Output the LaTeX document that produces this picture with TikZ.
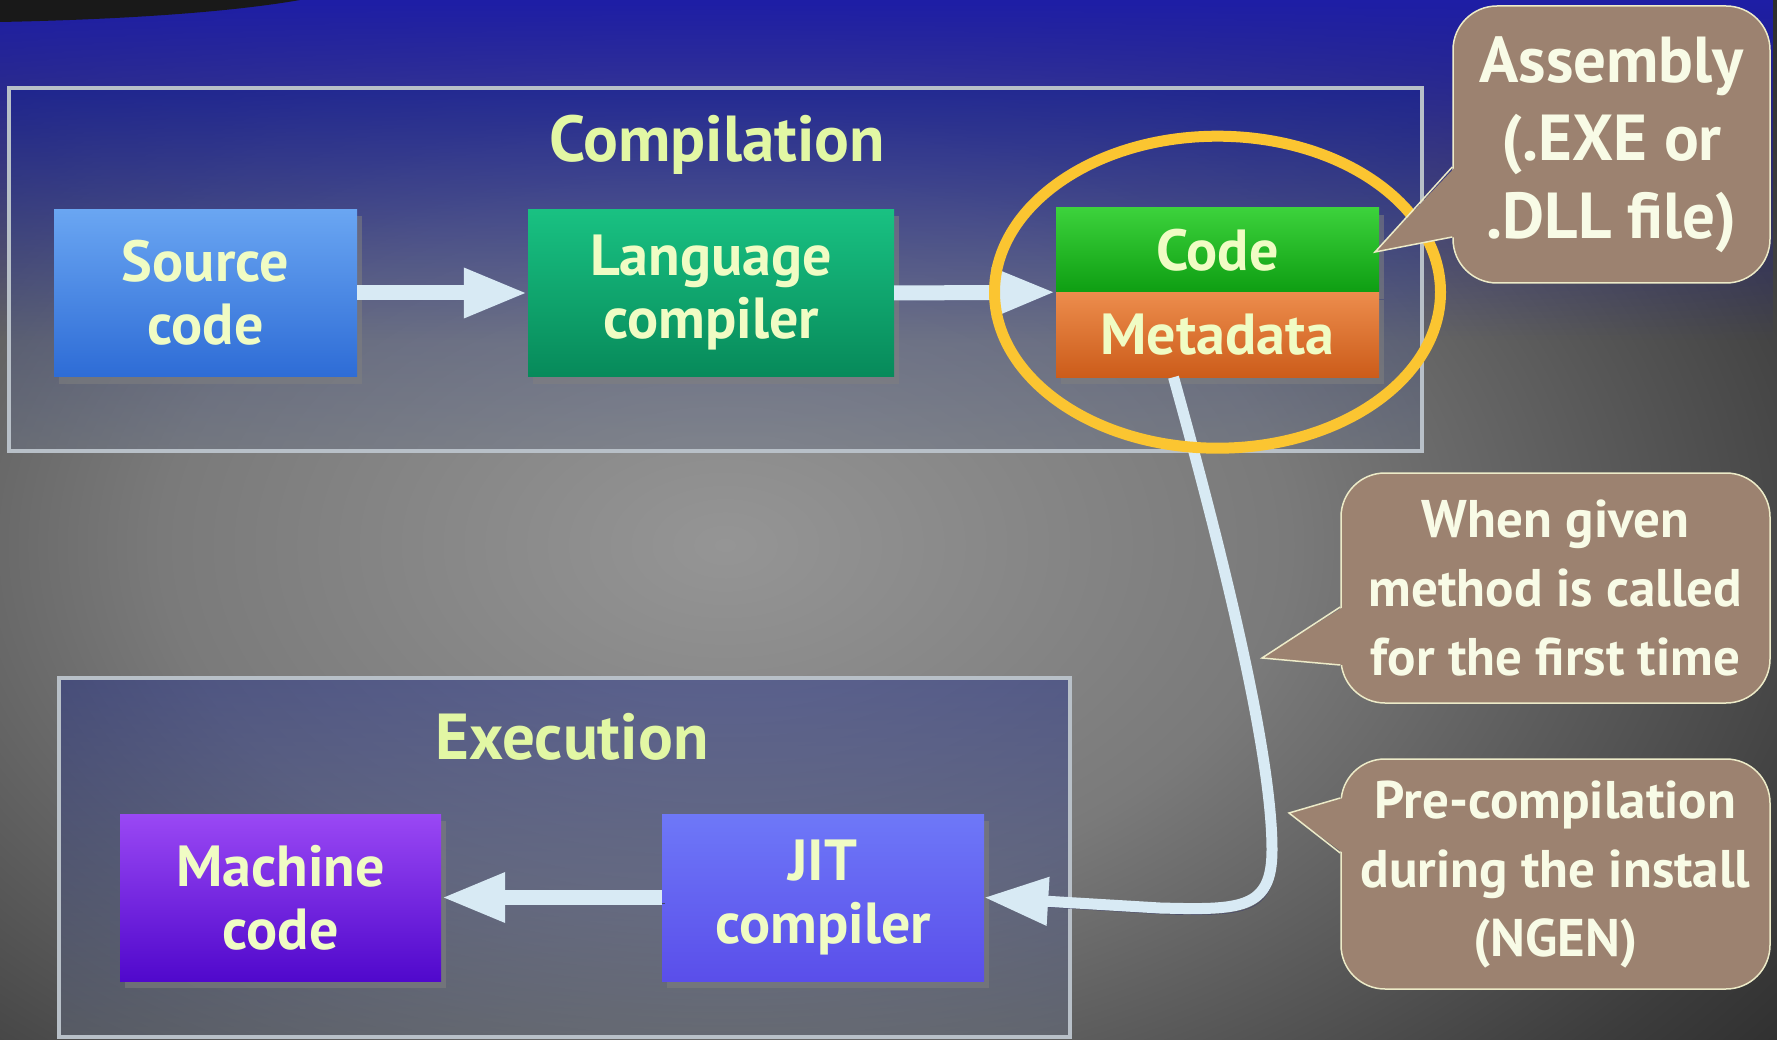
\documentclass[tikz,border=0pt]{standalone}
\usepackage{fontspec}
\setmainfont{PT Sans}
\usetikzlibrary{positioning,shadows,fadings,arrows.meta}
\definecolor{BgLight}{HTML}{959595}
\definecolor{BgMid}{HTML}{7A7A7A}
\definecolor{BgShade}{HTML}{3C3C3C}
\definecolor{BgDark}{HTML}{151515}
\definecolor{TopBlue}{HTML}{1E1EA6}
\definecolor{FrameLine}{HTML}{B8C0C8}
\definecolor{FrameTop}{HTML}{10208E}
\definecolor{FrameBottom}{HTML}{687288}
\definecolor{TitleText}{HTML}{E2F7A4}
\definecolor{BoxText}{HTML}{F0FCC4}
\definecolor{SrcTop}{HTML}{6AA6F2}
\definecolor{SrcBottom}{HTML}{2E6CD6}
\definecolor{LangTop}{HTML}{19C182}
\definecolor{LangBottom}{HTML}{078A5A}
\definecolor{CodeTop}{HTML}{3CD23C}
\definecolor{CodeBottom}{HTML}{0E9E12}
\definecolor{MetaTop}{HTML}{EC8C4C}
\definecolor{MetaBottom}{HTML}{CC5C1A}
\definecolor{MachTop}{HTML}{9A48F4}
\definecolor{MachBottom}{HTML}{5008CC}
\definecolor{JitTop}{HTML}{6E78F8}
\definecolor{JitBottom}{HTML}{5A4EEA}
\definecolor{ArrowFill}{HTML}{D8EAF4}
\definecolor{ArrowShadow}{HTML}{44466E}
\definecolor{NoteFill}{HTML}{9C8270}
\definecolor{NoteLine}{HTML}{EDEBC8}
\definecolor{NoteText}{HTML}{F8FBE6}
\definecolor{Hilite}{HTML}{FBC531}
\pgfdeclareradialshading{backglow}{\pgfpoint{0bp}{0bp}}{%
  color(0bp)=(BgLight); color(12bp)=(BgMid); color(25bp)=(BgShade);
  color(35bp)=(BgDark); color(50bp)=(BgDark)}
\tikzset{
  frame/.style={draw=FrameLine, line width=4pt, top color=FrameTop,
    bottom color=FrameBottom, fill opacity=0.4},
  title/.style={text=TitleText, font=\fontsize{65}{70}\selectfont\bfseries},
  block/.style={minimum width=322pt, minimum height=167pt, inner sep=0pt,
    align=center, text=BoxText, font=\fontsize{58}{63}\selectfont\bfseries,
    drop shadow={shadow xshift=5pt, shadow yshift=-7pt, opacity=0.55}},
  strip/.style={block, minimum height=84pt},
  flow/.style={draw=ArrowFill, line width=15pt, -{Triangle[length=64pt, width=46pt]},
    preaction={draw=ArrowShadow, transform canvas={shift={(3pt,-6pt)}}}},
  hilite/.style={draw=Hilite, line width=11pt},
  note/.style={rounded corners=44pt, fill=NoteFill, draw=NoteLine, line width=1.5pt,
    text=NoteText, align=center, inner sep=0pt, minimum width=429pt,
    minimum height=230pt, font=\fontsize{53}{69}\selectfont\bfseries},
}
% pointer of a note: node, upper and lower end on its west side, tip
\newcommand\notetip[4]{%
  \fill[NoteFill] ([xshift=3pt,yshift=#2]#1.west) -- (#4) -- ([xshift=3pt,yshift=#3]#1.west) -- cycle;
  \draw[NoteLine, line width=1.5pt] ([yshift=#2]#1.west) -- (#4) -- ([yshift=#3]#1.west);}
\begin{document}
\begin{tikzpicture}[x=1pt, y=-1pt]
  \useasboundingbox (0,0) rectangle (1777,1040);
  % background
  \begin{scope}
    \clip (0,0) rectangle (1777,1040);
    \shade[shading=backglow] (-450,-200) rectangle (1900,1290);
    \fill[TopBlue, path fading=south] (0,0) rectangle (1777,340);
    \fill[black!90] (0,0) -- (300,0) .. controls (220,14) and (100,20) .. (0,22) -- cycle;
  \end{scope}

  \node[frame, minimum width=1413pt, minimum height=363pt] at (715.5,269.5) (compframe) {};
  \node[frame, minimum width=1011pt, minimum height=359pt] at (564.5,857.5) (execframe) {};
  \node[title] at (717,145) (comptitle) {Compilation};
  \node[title] at (572,737) (exectitle) {Execution};

  \node[block, top color=SrcTop, bottom color=SrcBottom, minimum width=303pt] at (205.5,293) (src) {Source\\code};
  \node[block, top color=LangTop, bottom color=LangBottom, minimum width=366pt] at (711,293) (lang) {Language\\compiler};
  \node[strip, top color=CodeTop, bottom color=CodeBottom, minimum width=323pt] at (1217.5,250) (code) {Code};
  \node[strip, top color=MetaTop, bottom color=MetaBottom, minimum width=323pt] at (1217.5,335) (meta) {Metadata};
  \node[block, top color=MachTop, bottom color=MachBottom, minimum width=321pt] at (280.5,897.5) (mach) {Machine\\code};
  \node[block, top color=JitTop, bottom color=JitBottom] at (823,897.5) (jit) {JIT\\compiler};

  \draw[flow] (src) -- (lang);
  \draw[flow] (lang.east) -- (code.south west);
  \draw[flow] (jit) -- (mach);
  \draw[flow, line width=11pt] ([xshift=-44pt]meta.south)
    .. controls (1230,580) and (1272,760) .. (1272,850)
    .. controls (1272,910) and (1240,910) .. (1160,908) -- (jit.east);

  \draw[hilite] (code.south) ellipse [x radius=223pt, y radius=156pt];

  \coordinate (asmtip) at (1375,252);
  \coordinate (whentip) at (1262,658);
  \coordinate (pretip) at (1289,813);
  \node[note, minimum width=317pt, minimum height=277pt, font=\fontsize{65}{78}\selectfont\bfseries]
    at (1611.5,144.5) (asm) {Assembly\\(.EXE or\\.DLL file)};
  \node[note] at (1555.5,588) (when) {When given\\method is called\\for the first time};
  \node[note] at (1555.5,874) (pre) {Pre-compilation\\during the install\\(NGEN)};
  \notetip{asm}{-22.5pt}{-92.5pt}{asmtip}
  \notetip{when}{-19pt}{-77pt}{whentip}
  \notetip{pre}{76pt}{21pt}{pretip}
\end{tikzpicture}
\end{document}
